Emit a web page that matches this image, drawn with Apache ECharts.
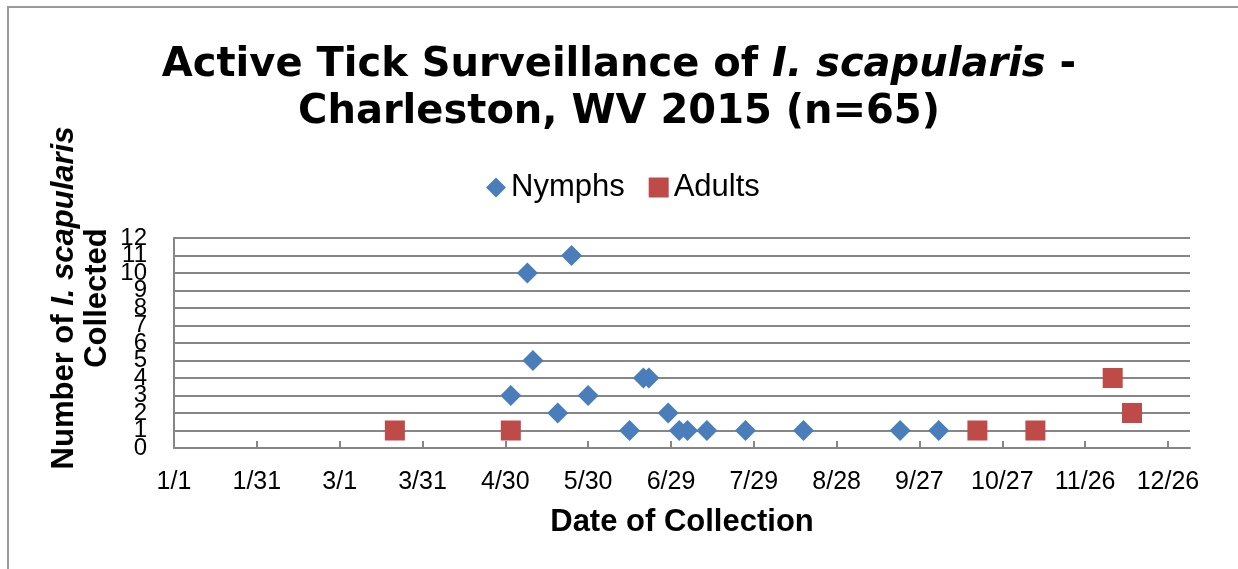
<!DOCTYPE html>
<html>
<head>
<meta charset="utf-8">
<title>Active Tick Surveillance</title>
<script src="https://cdn.jsdelivr.net/npm/echarts@6/dist/echarts.min.js"></script>
<style>
html,body{margin:0;padding:0;background:#fff;}
#tickChart{width:1238px;height:569px;}
</style>
</head>
<body>
<div id="tickChart"></div>
<script>
// day of year (0 = 1/1) and number collected
var nymphDays=[122,128,130,139,144,150,165,170,172,179,183,186,193,207,228,263,277];
var nymphCounts=[3,10,5,2,11,3,1,4,4,2,1,1,1,1,1,1,1];
var adultDays=[80,122,291,312,340,347];
var adultCounts=[1,1,1,1,4,2];
// x axis ticks, every 30 days
var tickDays=[0,30,60,90,120,150,180,210,240,270,300,330,360];
var tickLabels=['1/1','1/31','3/1','3/31','4/30','5/30','6/29','7/29','8/28','9/27','10/27','11/26','12/26'];
// y axis ticks; 1 and 11 go on a helper axis so echarts doesn't drop them
var countTicks=[0,1,2,3,4,5,6,7,8,9,10,11,12];
var edgeTicks=[1,11];

var tickChart={
	init:function(){
		var chart=echarts.init(document.getElementById('tickChart'));
		var nymphs=[],adults=[];
		for(var i=0;i<nymphDays.length;i++){
			nymphs.push([nymphDays[i],nymphCounts[i]]);
		}
		for(var j=0;j<adultDays.length;j++){
			adults.push([adultDays[j],adultCounts[j]]);
		}
		var grey='#868686';
		var yLabel={
			margin:27,
			hideOverlap:false,
			fontFamily:'Liberation Sans',
			fontSize:24,
			lineHeight:14,
			color:'#000'
		};
		var option={
			animation:false,
			backgroundColor:'#fff',
			title:{
				left:'center',
				top:42,
				padding:0,
				text:'{b|Active Tick Surveillance of }{i|I. scapularis}{b| -}\n{b|Charleston, WV 2015 (n=65)}',
				textStyle:{
					fontFamily:'DejaVu Sans',
					fontWeight:'bold',
					fontSize:40,
					lineHeight:47,
					color:'#000',
					rich:{
						b:{fontFamily:'DejaVu Sans',fontWeight:'bold',fontSize:40,lineHeight:47,color:'#000'},
						i:{fontFamily:'DejaVu Sans',fontWeight:'bold',fontStyle:'italic',fontSize:40,lineHeight:47,color:'#000'}
					}
				}
			},
			legend:{
				left:481,
				top:167,
				itemWidth:20,
				itemHeight:20,
				itemGap:24,
				textStyle:{fontFamily:'Liberation Sans',fontSize:31,color:'#000'},
				data:['Nymphs','Adults']
			},
			grid:{left:174,right:48,top:238,bottom:121},
			xAxis:{
				type:'value',
				min:0,
				max:368,
				interval:30,
				name:'Date of Collection',
				nameLocation:'middle',
				nameGap:59,
				nameTextStyle:{fontFamily:'Liberation Sans',fontWeight:'bold',fontSize:31,color:'#000'},
				axisLine:{show:true,lineStyle:{color:grey,width:2}},
				axisTick:{show:true,inside:true,length:7,customValues:tickDays,lineStyle:{color:grey,width:2}},
				axisLabel:{
					margin:22,
					customValues:tickDays,
					fontFamily:'Liberation Sans',
					fontSize:25,
					color:'#000',
					formatter:function(v){
						var k=tickDays.indexOf(v);
						return k<0?'':tickLabels[k];
					}
				},
				splitLine:{show:false}
			},
			yAxis:[
				{
					type:'value',
					position:'left',
					min:0,
					max:12,
					interval:1,
					axisLine:{show:true,lineStyle:{color:grey,width:2}},
					axisTick:{show:false},
					axisLabel:echarts.util.extend({customValues:countTicks,showMinLabel:true,showMaxLabel:true},yLabel),
					splitLine:{show:true,lineStyle:{color:grey,width:2}}
				},
				{
					type:'value',
					position:'left',
					offset:0,
					min:0,
					max:12,
					interval:1,
					axisLine:{show:false},
					axisTick:{show:false},
					axisLabel:echarts.util.extend({customValues:edgeTicks},yLabel),
					splitLine:{show:false}
				}
			],
			graphic:[
				{
					type:'rect',
					shape:{x:8,y:7,width:1250,height:600},
					style:{fill:'none',stroke:'#9a9a9a',lineWidth:2},
					silent:true
				},
				{
					type:'text',
					x:81,
					y:298,
					rotation:Math.PI/2,
					style:{
						text:'{b|Number of }{i|I. scapularis}\n{b|Collected}',
						textAlign:'center',
						textVerticalAlign:'middle',
						fill:'#000',
						rich:{
							b:{fontFamily:'Liberation Sans',fontWeight:'bold',fontSize:31,lineHeight:33,fill:'#000'},
							i:{fontFamily:'Liberation Sans',fontWeight:'bold',fontStyle:'italic',fontSize:31,lineHeight:33,fill:'#000'}
						}
					}
				}
			],
			series:[
				{
					name:'Nymphs',
					type:'scatter',
					symbol:'diamond',
					symbolSize:[21,21],
					itemStyle:{color:'#4a7ebb',opacity:1},
					data:nymphs
				},
				{
					name:'Adults',
					type:'scatter',
					symbol:'rect',
					symbolSize:[20,20],
					itemStyle:{color:'#be4b48',opacity:1},
					data:adults
				}
			]
		};
		chart.setOption(option);
	}
};
tickChart.init();
</script>
</body>
</html>
